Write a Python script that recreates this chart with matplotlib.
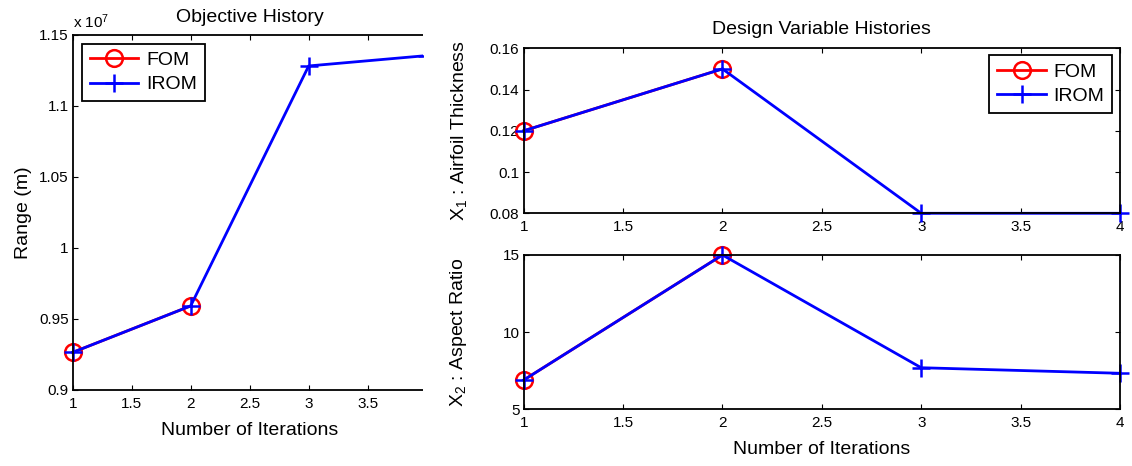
import matplotlib
matplotlib.use("Agg")
import matplotlib.pyplot as plt
from matplotlib.patches import Rectangle
from matplotlib.ticker import FuncFormatter

plt.rcParams['font.family'] = ['Liberation Sans', 'DejaVu Sans']
plt.rcParams['mathtext.fontset'] = 'custom'
plt.rcParams['mathtext.rm'] = 'Liberation Sans'
plt.rcParams['mathtext.it'] = 'Liberation Sans'

# data
iter_fom = [1, 2]
iter_rom = [1, 2, 3, 4]
range_fom = [0.9265e7, 0.9592e7]
range_rom = [0.9265e7, 0.9592e7, 1.1282e7, 1.1355e7]
thick_fom = [0.12, 0.15]
thick_rom = [0.12, 0.15, 0.08, 0.08]
ar_fom = [6.88, 15.0]
ar_rom = [6.88, 15.0, 7.68, 7.32]

fig = plt.figure(figsize=(11.32, 4.66), dpi=100)

def style(ax, right=True):
    ax.tick_params(direction='in', length=3.5, labelsize=11, top=True, right=right,
                   width=0.8)
    ax.tick_params(axis='x', pad=5)
    ax.tick_params(axis='y', pad=3)
    for s in ax.spines.values():
        s.set_linewidth(1.3)

def draw(ax, xf, yf, xr, yr):
    l1, = ax.plot(xf, yf, color='red', lw=2, marker='o', ms=12, mfc='none', mew=1.8,
                  label='FOM', clip_on=False)
    l2, = ax.plot(xr, yr, color='blue', lw=2, marker='+', ms=13, mew=1.8,
                  label='IROM', clip_on=False)
    return l1, l2

def legend(ax, loc, anchor):
    leg = ax.legend(loc=loc, bbox_to_anchor=anchor, fontsize=14, fancybox=False,
                    framealpha=1, edgecolor='black', handlelength=2.5, borderpad=0.4,
                    labelspacing=0.34, handletextpad=0.4, borderaxespad=0)
    leg.get_frame().set_linewidth(1.3)

# objective history (picture is cut off just before x = 4)
ax1 = fig.add_axes([0.0642, 0.1631, 0.3127, 0.7618])
lines = draw(ax1, iter_fom, range_fom, iter_rom, range_rom)
ax1.set_xlim(1, 4)
ax1.set_ylim(0.9e7, 1.15e7)
ax1.set_xticks([1, 1.5, 2, 2.5, 3, 3.5])
ax1.set_yticks([0.9e7, 0.95e7, 1.0e7, 1.05e7, 1.1e7, 1.15e7])
ax1.yaxis.set_major_formatter(FuncFormatter(lambda v, p: '%g' % round(v / 1e7, 3)))
ax1.xaxis.set_major_formatter(FuncFormatter(lambda v, p: '%g' % v))
style(ax1, right=False)
ax1.spines['right'].set_visible(False)
cut = Rectangle((0, 0), 422.7 / 1132, 1, transform=fig.transFigure)
for art in list(lines) + [ax1.spines['top'], ax1.spines['bottom']]:
    art.set_clip_path(cut)
    art.set_clip_on(True)
ax1.set_title('Objective History', fontsize=14, pad=9)
ax1.set_xlabel('Number of Iterations', fontsize=14, labelpad=8)
ax1.set_ylabel('Range (m)', fontsize=14, labelpad=5)
ax1.text(0.0, 1.012, r'x 10$^{7}$', transform=ax1.transAxes, fontsize=11, va='bottom')
legend(ax1, 'upper left', (0.026, 0.975))

# airfoil thickness
ax2 = fig.add_axes([0.4626, 0.5423, 0.5268, 0.3541])
draw(ax2, iter_fom, thick_fom, iter_rom, thick_rom)
ax2.set_xlim(1, 4)
ax2.set_ylim(0.08, 0.16)
ax2.set_yticks([0.08, 0.1, 0.12, 0.14, 0.16])
ax2.yaxis.set_major_formatter(FuncFormatter(lambda v, p: '%g' % round(v, 3)))
ax2.xaxis.set_major_formatter(FuncFormatter(lambda v, p: '%g' % v))
style(ax2)
ax2.set_title('Design Variable Histories', fontsize=14, pad=10)
ax2.set_ylabel(r'X$_1$ : Airfoil Thickness', fontsize=14, labelpad=15)
legend(ax2, 'upper right', (0.987, 0.958))

# aspect ratio
ax3 = fig.add_axes([0.4626, 0.1223, 0.5268, 0.3305])
draw(ax3, iter_fom, ar_fom, iter_rom, ar_rom)
ax3.set_xlim(1, 4)
ax3.set_ylim(5, 15)
ax3.set_yticks([5, 10, 15])
ax3.xaxis.set_major_formatter(FuncFormatter(lambda v, p: '%g' % v))
style(ax3)
ax3.set_xlabel('Number of Iterations', fontsize=14, labelpad=8)
ax3.set_ylabel(r'X$_2$ : Aspect Ratio', fontsize=14, labelpad=24)

fig.savefig('out.png', dpi=100)
